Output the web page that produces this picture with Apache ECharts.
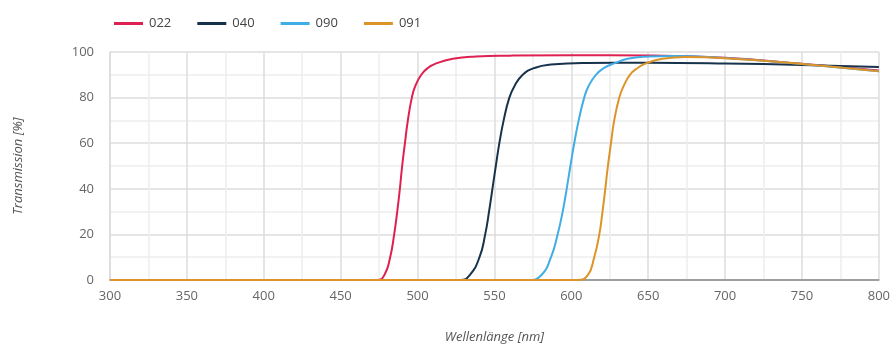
<!DOCTYPE html>
<html>
<head>
<meta charset="utf-8">
<script src="https://cdn.jsdelivr.net/npm/echarts@6/dist/echarts.min.js"></script>
<style>
html,body{margin:0;padding:0;background:#fff;overflow:hidden;}
#chart{width:893px;height:349px;}
</style>
</head>
<body>
<div id="chart"></div>
<script>
const seriesNames = ['022', '040', '090', '091'];
const seriesColors = ['#dd2150', '#17334b', '#41ade5', '#dc9428'];

const wl022 = [300, 474, 478.6, 482.2, 484.8, 486.8, 488.5, 490, 491.8, 493.7, 496.3, 498.5, 502.4, 506.7, 512.1, 522.9, 538, 560, 600, 650, 700, 750, 800];
const val022 = [0, 0, 2.4, 10, 20, 30, 40, 50, 60, 70, 80, 85, 90, 93, 95, 97, 98, 98.4, 98.6, 98.5, 97.5, 94.8, 91.9];

const wl040 = [300, 528, 533.8, 540.3, 544, 546.5, 548.7, 550.9, 553.2, 556, 559.7, 563, 568.4, 576, 586.8, 610, 650, 700, 750, 800];
const val040 = [0, 0, 2, 10, 20, 30, 40, 50, 60, 70, 80, 85, 90, 93, 94.5, 95.2, 95.3, 95, 94.3, 93.4];

const wl090 = [300, 572, 580.3, 586.8, 591.1, 594.4, 597, 599.4, 601.9, 604.8, 608.4, 611.2, 616, 621.4, 627.9, 636.6, 650, 665, 700, 750, 800];
const val090 = [0, 0, 2, 10, 20, 30, 40, 50, 60, 70, 80, 85, 90, 93, 95, 97, 98, 98.3, 97.4, 94.7, 91.6];

const wl091 = [300, 604, 610.6, 614.9, 618.2, 620.3, 622.1, 623.8, 625.8, 627.9, 631.2, 634, 638.1, 643.1, 648.5, 659.3, 674.5, 700, 750, 800];
const val091 = [0, 0, 2, 10, 20, 30, 40, 50, 60, 70, 80, 85, 90, 93, 95, 97, 97.8, 97.3, 94.7, 91.5];

const allWl = [wl022, wl040, wl090, wl091];
const allVal = [val022, val040, val090, val091];

const FONT = 'Open Sans';
const chart = echarts.init(document.getElementById('chart'), null, {renderer: 'canvas', width: 893, height: 349});

const series = seriesNames.map((name, i) => ({
  name: name,
  type: 'line',
  data: allWl[i].map((x, k) => [x, allVal[i][k]]),
  smooth: 0.5,
  showSymbol: false,
  symbol: 'none',
  lineStyle: {width: 2, color: seriesColors[i]},
  itemStyle: {color: seriesColors[i]},
  animation: false
}));

chart.setOption({
  animation: false,
  textStyle: {fontFamily: FONT},
  legend: {
    left: 109,
    top: 12,
    icon: 'rect',
    itemWidth: 29,
    itemHeight: 3,
    itemGap: 26,
    textStyle: {fontFamily: FONT, fontSize: 13, color: '#444', padding: [0, 0, 0, 1]},
    data: seriesNames
  },
  grid: {left: 110, right: 12, top: 52, bottom: 66, containLabel: false},
  xAxis: {
    type: 'value',
    min: 300, max: 800, interval: 50,
    name: 'Wellenlänge [nm]',
    nameLocation: 'middle',
    nameGap: 51,
    nameTextStyle: {fontFamily: FONT, fontSize: 13, fontStyle: 'italic', color: '#555'},
    axisLine: {show: true, lineStyle: {color: '#888', width: 1.5}},
    axisTick: {show: false},
    axisLabel: {fontFamily: FONT, fontSize: 13, color: '#666', margin: 10},
    splitLine: {show: true, lineStyle: {color: '#dcdcdc', width: 1.5}},
    minorTick: {show: false, splitNumber: 2},
    minorSplitLine: {show: true, lineStyle: {color: '#eeeeee', width: 1.5}}
  },
  yAxis: {
    type: 'value',
    min: 0, max: 100, interval: 20,
    name: 'Transmission [%]',
    nameLocation: 'middle',
    nameGap: 85,
    nameTextStyle: {fontFamily: FONT, fontSize: 13, fontStyle: 'italic', color: '#555'},
    axisLine: {show: true, lineStyle: {color: '#dcdcdc', width: 1.5}},
    axisTick: {show: false},
    axisLabel: {fontFamily: FONT, fontSize: 13, color: '#666', margin: 16},
    splitLine: {show: true, lineStyle: {color: '#dcdcdc', width: 1.5}},
    minorTick: {show: false, splitNumber: 2},
    minorSplitLine: {show: true, lineStyle: {color: '#eeeeee', width: 1.5}}
  },
  series: series
});
</script>
</body>
</html>
